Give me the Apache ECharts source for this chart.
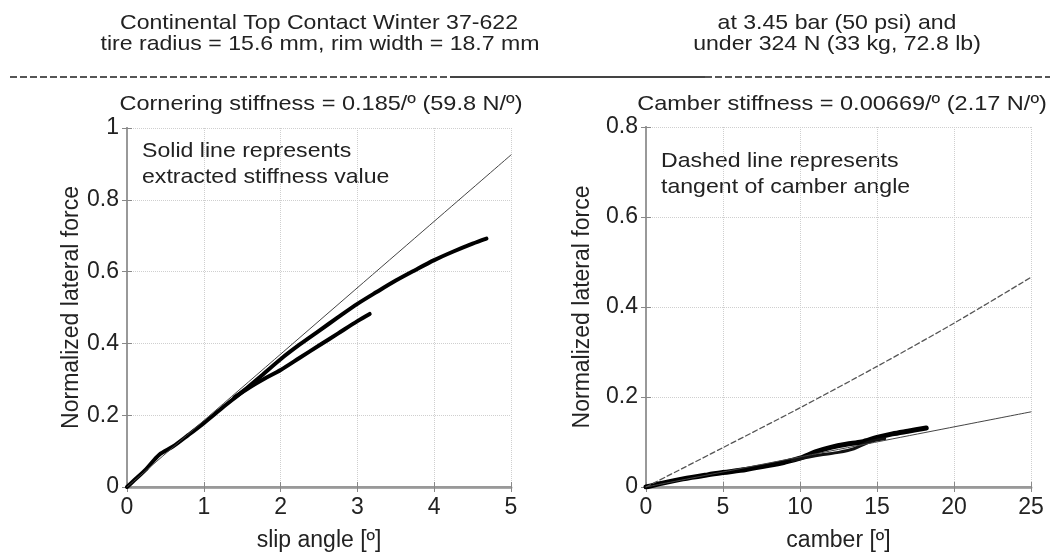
<!DOCTYPE html>
<html>
<head>
<meta charset="utf-8">
<script src="https://cdn.jsdelivr.net/npm/echarts@6/dist/echarts.min.js"></script>
<style>html,body{margin:0;padding:0;background:#fff}#c{width:1050px;height:557px}</style>
</head>
<body>
<div id="c"></div>
<script>
// ---- data ----
var slipTicks = [0, 1, 2, 3, 4, 5];
var camberTicks = [0, 5, 10, 15, 20, 25];
// slip angle test, main branch
var slipX1 = [0, 0.1, 0.25, 0.42, 0.6, 0.8, 1.0, 1.25, 1.5, 1.75, 2.0, 2.25, 2.5, 2.75, 3.0, 3.25, 3.5, 3.75, 4.0, 4.25, 4.5, 4.68];
var slipY1 = [0, 0.02, 0.05, 0.09, 0.113, 0.145, 0.178, 0.222, 0.265, 0.31, 0.356, 0.397, 0.435, 0.473, 0.51, 0.543, 0.575, 0.604, 0.632, 0.656, 0.678, 0.692];
// slip angle test, second branch
var slipX2 = [1.4, 1.6, 1.8, 2.0, 2.25, 2.5, 2.75, 3.0, 3.16];
var slipY2 = [0.25, 0.278, 0.303, 0.326, 0.36, 0.394, 0.428, 0.462, 0.482];
// extracted cornering stiffness line (0.185 / deg)
var corneringX = [0, 5];
var corneringY = [0, 0.925];
// camber test, outer strand
var camberX1 = [0, 1, 2.4, 4, 5, 6.5, 8, 9, 10, 11, 12, 13, 14, 15, 16, 17, 18.2];
var camberY1 = [0, 0.008, 0.018, 0.027, 0.032, 0.039, 0.048, 0.055, 0.064, 0.078, 0.088, 0.095, 0.1, 0.11, 0.118, 0.124, 0.131];
// camber test, inner strand of the loop
var camberX2 = [9.5, 10.5, 11.5, 12.5, 13.5, 14.5, 15.5];
var camberY2 = [0.059, 0.066, 0.072, 0.077, 0.085, 0.1, 0.107];
// extracted camber stiffness line (0.00669 / deg)
var camberFitX = [0, 25];
var camberFitY = [0, 0.167];
// tangent of camber angle
var tanX = [0, 5, 10, 15, 20, 25];
var tanY = [0, 0.0875, 0.176, 0.268, 0.364, 0.466];

var headerLeft = ['Continental Top Contact Winter 37-622', 'tire radius = 15.6 mm, rim width = 18.7 mm'];
var headerRight = ['at 3.45 bar (50 psi) and', 'under 324 N (33 kg, 72.8 lb)'];
var titleLeft = 'Cornering stiffness = 0.185/º (59.8 N/º)';
var titleRight = 'Camber stiffness = 0.00669/º (2.17 N/º)';
var noteLeft = ['Solid line represents', 'extracted stiffness value'];
var noteRight = ['Dashed line represents', 'tangent of camber angle'];
var yName = 'Normalized lateral force';
var xNameLeft = 'slip angle [º]';
var xNameRight = 'camber [º]';

function zip(xs, ys) { return xs.map(function (x, i) { return [x, ys[i]]; }); }

var FONT = '"Liberation Sans", Arial, sans-serif';
var TXT = '#222';

function xAx(gi, max, interval, name) {
  return {
    type: 'value', gridIndex: gi, min: 0, max: max, interval: interval,
    name: name, nameLocation: 'middle', nameGap: 42,
    nameTextStyle: { fontFamily: FONT, fontSize: 23, color: TXT },
    axisLine: { show: true, lineStyle: { color: '#aaa', width: 3 } },
    axisTick: { show: true, inside: true, length: 5, lineStyle: { color: '#888' } },
    axisLabel: { fontFamily: FONT, fontSize: 23, color: TXT, margin: 9 },
    splitLine: { show: true, lineStyle: { color: '#cfcfcf', type: 'dotted', width: 1 } }
  };
}
function yAx(gi, max, interval, nameGap) {
  return {
    type: 'value', gridIndex: gi, min: 0, max: max, interval: interval,
    name: yName, nameLocation: 'middle', nameGap: nameGap, nameRotate: 90,
    nameTextStyle: { fontFamily: FONT, fontSize: 23, color: TXT },
    axisLine: { show: true, lineStyle: { color: '#999', width: 2 } },
    axisTick: { show: true, inside: true, length: 5, lineStyle: { color: '#888' } },
    axisLabel: { fontFamily: FONT, fontSize: 23, color: TXT, margin: 8 },
    splitLine: { show: true, lineStyle: { color: '#cfcfcf', type: 'dotted', width: 1 } }
  };
}
function boxX(gi, max, interval) {
  return { type: 'value', gridIndex: gi, position: 'top', min: 0, max: max, interval: interval,
    axisLine: { show: true, lineStyle: { color: '#999', width: 2 } },
    axisTick: { show: true, inside: true, length: 5, lineStyle: { color: '#888' } },
    axisLabel: { show: false }, splitLine: { show: false } };
}
function boxY(gi, max, interval) {
  return { type: 'value', gridIndex: gi, position: 'right', min: 0, max: max, interval: interval,
    axisLine: { show: true, lineStyle: { color: '#999', width: 2 } },
    axisTick: { show: true, inside: true, length: 5, lineStyle: { color: '#888' } },
    axisLabel: { show: false }, splitLine: { show: false } };
}
function line(data, xi, yi, color, width, type, z) {
  return { type: 'line', xAxisIndex: xi, yAxisIndex: yi, data: data, showSymbol: false, symbol: 'none',
    smooth: 0.3, silent: true, z: z || 2,
    lineStyle: { color: color, width: width, type: type || 'solid', cap: 'round', join: 'round' } };
}

var graphics = [];
function txt(text, x, y, size, align, sx) {
  graphics.push({ type: 'text', x: x, y: y, scaleX: sx || 1, silent: true,
    style: { text: text, font: size + 'px ' + FONT, fill: TXT, align: align || 'center', verticalAlign: 'middle' } });
}
txt(headerLeft[0], 319, 23, 21, 'center', 1.1);
txt(headerLeft[1], 320, 44, 21, 'center', 1.1);
txt(headerRight[0], 837, 23, 21, 'center', 1.1);
txt(headerRight[1], 837, 44, 21, 'center', 1.1);
txt(titleLeft, 321, 104, 21, 'center', 1.12);
txt(titleRight, 842, 104, 21, 'center', 1.12);
txt(noteLeft[0], 142, 151, 21, 'left', 1.1);
txt(noteLeft[1], 142, 177, 21, 'left', 1.1);
txt(noteRight[0], 661, 161, 21, 'left', 1.1);
txt(noteRight[1], 661, 187, 21, 'left', 1.1);
graphics.push({ type: 'line', silent: true, shape: { x1: 10, y1: 77, x2: 450, y2: 77 }, style: { stroke: '#555', lineWidth: 2, lineDash: [7, 3] } });
graphics.push({ type: 'line', silent: true, shape: { x1: 450, y1: 77, x2: 705, y2: 77 }, style: { stroke: '#444', lineWidth: 2 } });
graphics.push({ type: 'line', silent: true, shape: { x1: 705, y1: 77, x2: 1050, y2: 77 }, style: { stroke: '#555', lineWidth: 2, lineDash: [7, 3] } });

var chart = echarts.init(document.getElementById('c'), null, { renderer: 'canvas' });
chart.setOption({
  backgroundColor: '#fff',
  animation: false,
  grid: [
    { left: 127, right: 539, top: 128, bottom: 64, containLabel: false },
    { left: 646, right: 19, top: 127, bottom: 64, containLabel: false }
  ],
  xAxis: [xAx(0, 5, 1, xNameLeft), xAx(1, 25, 5, xNameRight), boxX(0, 5, 1), boxX(1, 25, 5)],
  yAxis: [yAx(0, 1, 0.2, 43), yAx(1, 0.8, 0.2, 52), boxY(0, 1, 0.2), boxY(1, 0.8, 0.2)],
  series: [
    line(zip(slipX1, slipY1), 0, 0, '#000', 4),
    line(zip(slipX2, slipY2), 0, 0, '#000', 4),
    line(zip(corneringX, corneringY), 0, 0, '#444', 1, 'solid', 3),
    line(zip(camberX1, camberY1), 1, 1, '#000', 5),
    line(zip(camberX2, camberY2), 1, 1, '#111', 3),
    line(zip(camberFitX, camberFitY), 1, 1, '#444', 1, 'solid', 3),
    line(zip(tanX, tanY), 1, 1, '#555', 1.3, [5, 3], 3)
  ],
  graphic: graphics
});
</script>
</body>
</html>
